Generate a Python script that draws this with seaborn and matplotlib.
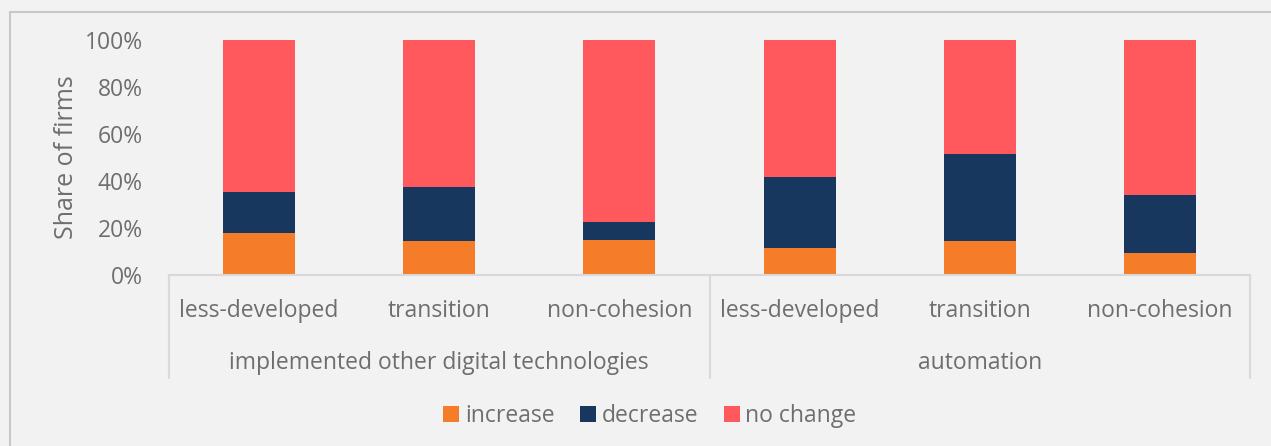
import matplotlib
matplotlib.use("Agg")
import matplotlib.pyplot as plt
import matplotlib.transforms as mtransforms
from matplotlib.patches import Patch
from matplotlib.lines import Line2D
import seaborn as sns
import pandas as pd

# data (share of firms, %)
groups = ["implemented other digital technologies"] * 3 + ["automation"] * 3
regions = ["less-developed", "transition", "non-cohesion"] * 2
increase = [18.0, 14.5, 14.8, 11.5, 14.3, 9.2]
decrease = [17.4, 23.1, 7.9, 30.1, 37.2, 24.8]
no_change = [100 - i - d for i, d in zip(increase, decrease)]
series_names = ["increase", "decrease", "no change"]
colors = {"increase": "#F57C28", "decrease": "#17375E", "no change": "#FF595E"}

TXT = "#6E6E6E"
BG = "#F2F2F2"
FS = 16.5

sns.set_style("white")
plt.rcParams["font.family"] = ["Open Sans", "DejaVu Sans"]

df = pd.DataFrame({
    "key": [f"{g}|{r}" for g, r in zip(groups, regions)],
    "increase": increase,
    "decrease": decrease,
    "no change": no_change,
})
df["top"] = df["increase"] + df["decrease"] + df["no change"]
df["mid"] = df["increase"] + df["decrease"]
order = list(df["key"])

fig = plt.figure(figsize=(12.71, 4.46), dpi=100, facecolor=BG)
ax = fig.add_axes([169 / 1271, 1 - 275 / 446, (1250 - 169) / 1271, 235 / 446])
ax.set_facecolor(BG)

for col, name in [("top", "no change"), ("mid", "decrease"), ("increase", "increase")]:
    sns.barplot(data=df, x="key", y=col, order=order, color=colors[name],
                saturation=1, width=0.4, linewidth=0, ax=ax)

ax.set_xlim(-0.5, len(order) - 0.5)
ax.set_ylim(0, 100)
ax.set_yticks([0, 20, 40, 60, 80, 100])
ax.set_yticklabels([f"{v}%" for v in [0, 20, 40, 60, 80, 100]])
ax.tick_params(axis="y", length=0, pad=19, labelsize=FS, labelcolor=TXT)
ax.set_ylabel("Share of firms", fontsize=18, color=TXT, labelpad=4)
ax.set_xlabel("")
ax.set_xticks(range(len(order)))
ax.set_xticklabels([])
ax.tick_params(axis="x", length=0)

for s in ["left", "right", "top"]:
    ax.spines[s].set_visible(False)
ax.spines["bottom"].set_color("#D9D9D9")
ax.spines["bottom"].set_linewidth(1.5)

# two-level category axis
trans = mtransforms.blended_transform_factory(ax.transData, ax.transAxes)
for i, r in enumerate(regions):
    ax.text(i, -0.152, r, transform=trans, ha="center", va="center",
            fontsize=FS, color=TXT)
group_names = list(dict.fromkeys(groups))
for j, g in enumerate(group_names):
    ax.text(3 * j + 1, -0.375, g, transform=trans, ha="center", va="center",
            fontsize=FS, color=TXT)
for xs in [-0.5, 2.5, 5.5]:
    ax.plot([xs, xs], [0, -0.438], transform=trans, color="#D9D9D9",
            lw=1.5, clip_on=False)

handles = [Patch(facecolor=colors[n], edgecolor="none", label=n) for n in series_names]
fig.legend(handles=handles, loc="center", bbox_to_anchor=(650 / 1271, 1 - 416 / 446),
           ncol=3, frameon=False, fontsize=FS, labelcolor=TXT,
           handlelength=0.7, handleheight=0.7, handletextpad=0.25, columnspacing=1.1)

# outer chart border (only top/left visible in the crop)
bx, by = 9.5 / 1271, 1 - 11.5 / 446
fig.add_artist(Line2D([bx, 1], [by, by], transform=fig.transFigure,
                      color="#C8C8C8", lw=1.5))
fig.add_artist(Line2D([bx, bx], [0, by], transform=fig.transFigure,
                      color="#C8C8C8", lw=1.5))

fig.savefig("out.png", dpi=100, facecolor=BG)
